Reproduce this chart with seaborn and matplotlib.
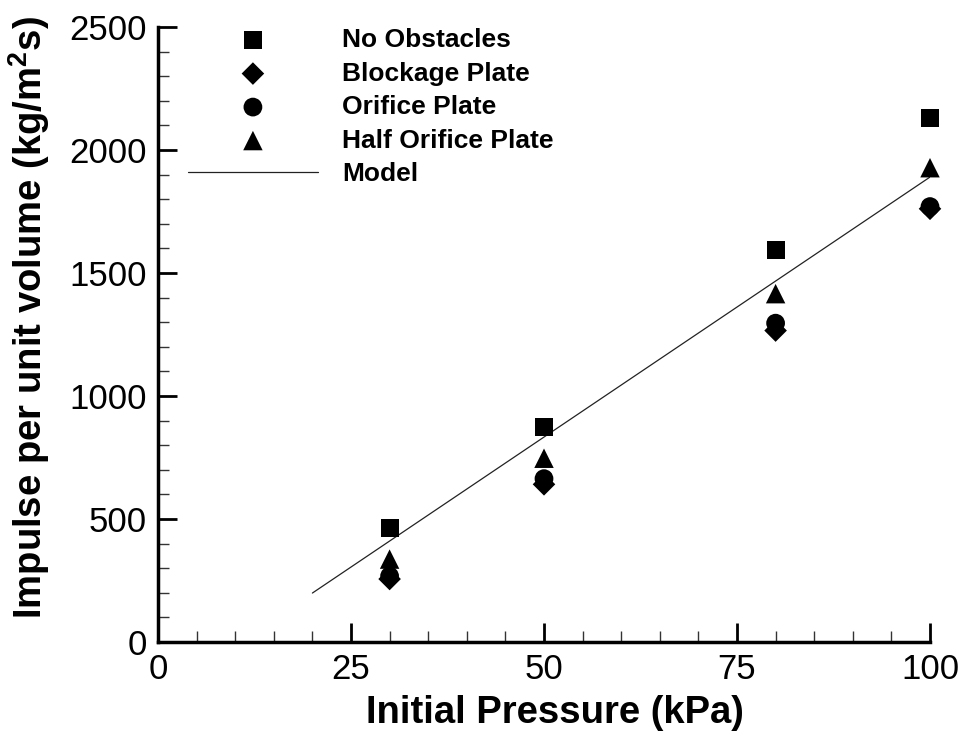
import numpy as np
import pandas as pd
import matplotlib
matplotlib.use("Agg")
import matplotlib.pyplot as plt
from matplotlib.ticker import MultipleLocator
import seaborn as sns

# ---- data ----
pressure = [30, 50, 80, 100]
no_obstacles = [463, 873, 1595, 2131]
blockage_plate = [256, 641, 1266, 1761]
orifice_plate = [268, 664, 1296, 1770]
half_orifice_plate = [337, 747, 1416, 1928]
model_x = [20, 100]
model_y = [199, 1890]

x_ticks = [0, 25, 50, 75, 100]
y_ticks = [0, 500, 1000, 1500, 2000, 2500]

sns.set_style("ticks")
plt.rcParams['font.family'] = ['Liberation Sans', 'DejaVu Sans']
plt.rcParams['mathtext.fontset'] = 'custom'
plt.rcParams['mathtext.rm'] = 'Liberation Sans'
plt.rcParams['mathtext.bf'] = 'Liberation Sans:bold'
for k in ['text.color', 'axes.labelcolor', 'xtick.color', 'ytick.color', 'axes.edgecolor']:
    plt.rcParams[k] = 'black'

fig = plt.figure(figsize=(9.65, 7.4), dpi=100)
ax = fig.add_axes([158/965, 1-642/740, (930-158)/965, (642-27)/740])

series = [
    ("No Obstacles", no_obstacles, "s", 13),
    ("Blockage Plate", blockage_plate, "D", 11.5),
    ("Orifice Plate", orifice_plate, "o", 13.5),
    ("Half Orifice Plate", half_orifice_plate, "^", 14),
]
for idx in [0, 3, 1, 2]:
    name, vals, mk, ms = series[idx]
    sns.scatterplot(x=pressure, y=vals, marker=mk, s=ms**2, color="black",
                    edgecolor="none", linewidth=0, ax=ax, label=name,
                    clip_on=False, zorder=3)

sns.lineplot(x=model_x, y=model_y, color="#222222", linewidth=0.9, ax=ax,
             label="Model")

ax.set_xlim(0, 100)
ax.set_ylim(0, 2500)
ax.set_xticks(x_ticks)
ax.set_yticks(y_ticks)
ax.xaxis.set_minor_locator(MultipleLocator(5))
ax.yaxis.set_minor_locator(MultipleLocator(100))
ax.tick_params(which="major", direction="in", length=14, width=2,
               labelsize=25, pad=8, color="black", labelcolor="black")
ax.tick_params(which="minor", direction="in", length=8, width=1, color="#333333")
for s in ["top", "right"]:
    ax.spines[s].set_visible(False)
for s in ["left", "bottom"]:
    ax.spines[s].set_linewidth(2.5)
    ax.spines[s].set_color("black")

ax.set_xlabel("Initial Pressure (kPa)", fontsize=27.5, fontweight="bold", color="black")
ax.set_ylabel(r"Impulse per unit volume (kg/m$^\mathbf{2}$s)", fontsize=27.5,
              fontweight="bold", color="black")
ax.xaxis.set_label_coords(0.514, -0.086)
ax.yaxis.set_label_coords(-0.137, 0.528)

h, l = ax.get_legend_handles_labels()
hd = dict(zip(l, h))
names = ["No Obstacles", "Blockage Plate", "Orifice Plate", "Half Orifice Plate", "Model"]
leg = ax.legend([hd[n] for n in names], names, loc="upper left",
                bbox_to_anchor=(188/965, 1-28/740), bbox_transform=fig.transFigure,
                frameon=False, borderpad=0, borderaxespad=0, handlelength=4.92,
                handletextpad=0.91, labelspacing=0.36,
                prop={"weight": "bold", "size": 19})
for t in leg.get_texts():
    t.set_color("black")

fig.savefig("out.png", dpi=100)
